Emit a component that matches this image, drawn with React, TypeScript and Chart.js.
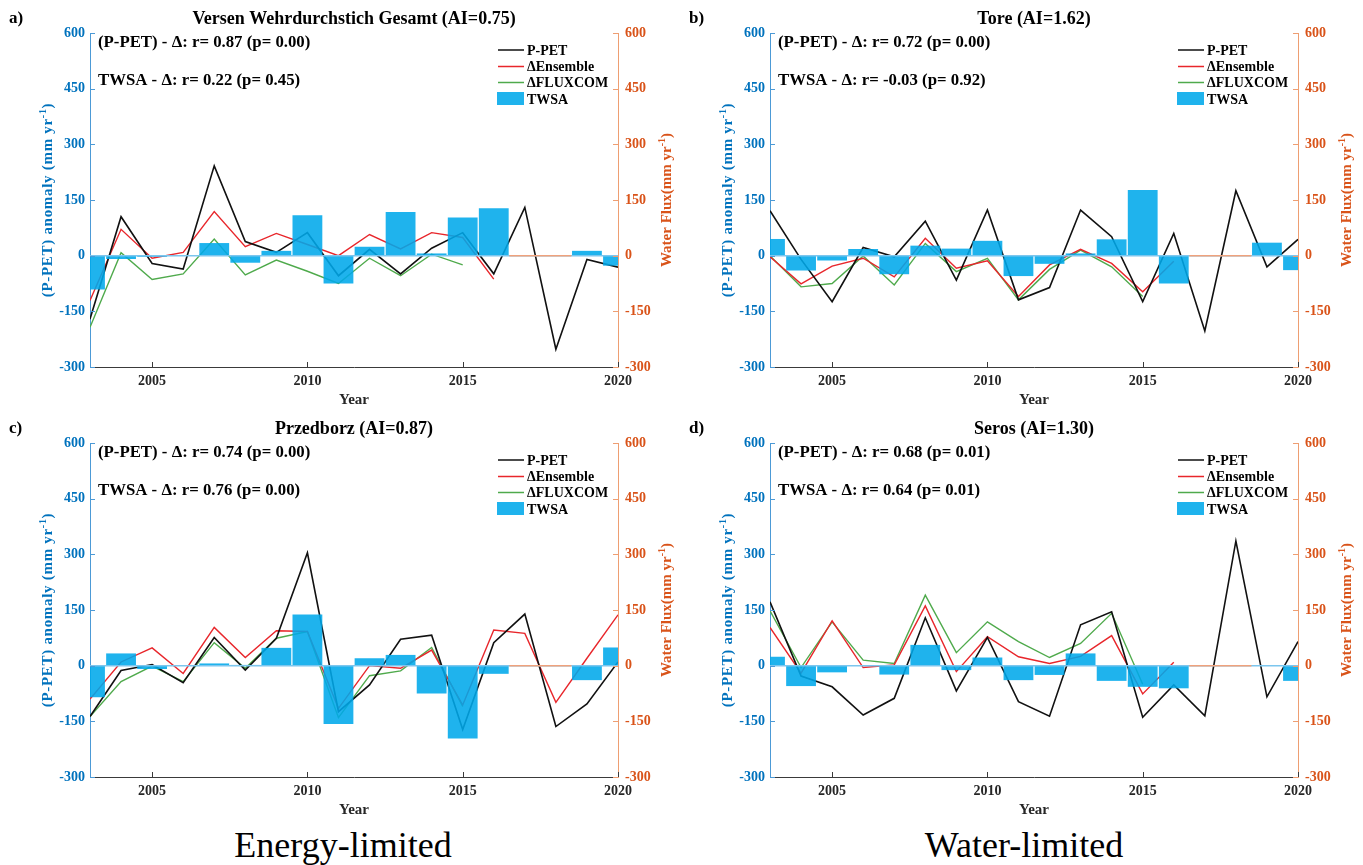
import React, { useEffect, useRef } from "react";
import { Chart, registerables } from "chart.js";

Chart.register(...registerables);

// ---------------- DATA ----------------
const years = [2003, 2004, 2005, 2006, 2007, 2008, 2009, 2010, 2011, 2012, 2013, 2014, 2015, 2016, 2017, 2018, 2019, 2020];
const xTickValues = [2005, 2010, 2015, 2020];
const yTickValues = [-300, -150, 0, 150, 300, 450, 600];
const legendLabels = ["P-PET", "\u0394Ensemble", "\u0394FLUXCOM", "TWSA"];

// a) Versen Wehrdurchstich Gesamt
const pPetA = [-171, 105, -21, -36, 242, 38, 9, 62, -54, 17, -49, 20, 62, -49, 130, -252, -10, -31];
const ensA = [-121, 71, -7, 9, 119, 24, 60, 30, 0, 57, 18, 62, 49, -63, null, null, null, null];
const fluxA = [-193, 8, -64, -49, 45, -52, -12, -42, -75, -7, -54, 4, -25, null, null, null, null, null];
const twsaA = [-91, -9, -3, 0, 34, -19, 13, 109, -75, 24, 118, 6, 103, 128, null, null, 13, -27];

// b) Tore
const pPetB = [121, -10, -124, 22, -3, 93, -66, 123, -119, -86, 123, 51, -124, 60, -203, 175, -30, 44];
const ensB = [-3, -76, -28, -7, -57, 47, -34, -14, -110, -25, 17, -21, -97, -15, null, null, null, null];
const fluxB = [0, -84, -75, -1, -79, 33, -43, -7, -119, -37, 15, -30, -110, null, null, null, null, null];
const twsaB = [45, -40, -13, 18, -50, 27, 19, 40, -55, -22, 6, 44, 177, -75, null, null, 35, -39];

// c) Przedborz
const pPetC = [-137, -13, 3, -46, 76, -12, 74, 304, -124, -52, 71, 82, -172, 62, 139, -164, -103, 10];
const ensC = [-90, 10, 48, -21, 103, 22, 94, 92, -115, 0, -7, 42, -106, 96, 87, -99, 20, 137];
const fluxC = [-137, -43, -1, -43, 62, -7, 74, 92, -140, -27, -14, 49, -110, null, null, null, null, null];
const twsaC = [-85, 33, -9, 0, 6, 2, 48, 138, -157, 20, 29, -75, -196, -22, null, null, -39, 49];

// d) Seros
const pPetD = [172, -28, -57, -133, -88, 129, -68, 76, -97, -136, 110, 145, -139, -52, -135, 336, -84, 65];
const ensD = [103, -20, 121, -5, 2, 161, -16, 78, 24, 6, 25, 81, -76, 9, null, null, null, null];
const fluxD = [148, -5, 118, 15, 6, 190, 35, 118, 65, 22, 60, 141, -50, null, null, null, null, null];
const twsaD = [24, -55, -18, 0, -24, 56, -12, 22, -39, -25, 33, -41, -57, -61, null, null, 0, -41];

const panels = [
  { letter: "a)", title: "Versen Wehrdurchstich Gesamt (AI=0.75)", stat1: "(P-PET) - \u0394: r= 0.87 (p= 0.00)", stat2: "TWSA - \u0394: r= 0.22 (p= 0.45)", pPet: pPetA, ens: ensA, flux: fluxA, twsa: twsaA },
  { letter: "b)", title: "Tore (AI=1.62)", stat1: "(P-PET) - \u0394: r= 0.72 (p= 0.00)", stat2: "TWSA - \u0394: r= -0.03 (p= 0.92)", pPet: pPetB, ens: ensB, flux: fluxB, twsa: twsaB },
  { letter: "c)", title: "Przedborz (AI=0.87)", stat1: "(P-PET) - \u0394: r= 0.74 (p= 0.00)", stat2: "TWSA - \u0394: r= 0.76 (p= 0.00)", pPet: pPetC, ens: ensC, flux: fluxC, twsa: twsaC },
  { letter: "d)", title: "Seros (AI=1.30)", stat1: "(P-PET) - \u0394: r= 0.68 (p= 0.01)", stat2: "TWSA - \u0394: r= 0.64 (p= 0.01)", pPet: pPetD, ens: ensD, flux: fluxD, twsa: twsaD },
];

// ---------------- STYLE / LAYOUT ----------------
const SERIF = '"Liberation Serif", "Times New Roman", serif';
const BLUE = "#0072BD";
const ORANGE = "#D95319";
const LEFT_AXIS = "#4C9AD6";
const RIGHT_AXIS = "#EE9E72";
const BAR = "rgba(0,168,234,0.88)";
const BASE_BLUE = "#7CC6EE";
const BASE_ORANGE = "#F0A27C";
const C_BLACK = "#111111";
const C_RED = "#E8262B";
const C_GREEN = "#4FAA4C";
const DARK = "#262626";

const boxes = [
  { left: 0, top: 0, width: 680 },
  { left: 680, top: 0, width: 683 },
  { left: 0, top: 410, width: 680 },
  { left: 680, top: 410, width: 683 },
];
const CANVAS_H = 410;
const AREA_RIGHT = 618;

function drawRotated(ctx: CanvasRenderingContext2D, cx: number, cy: number, parts: [string, boolean][], color: string, size: number, spacing: number) {
  ctx.save();
  ctx.translate(cx, cy);
  ctx.rotate(-Math.PI / 2);
  const mainFont = `bold ${size}px ${SERIF}`;
  const supFont = `bold ${Math.round(size * 0.68)}px ${SERIF}`;
  (ctx as any).letterSpacing = `${spacing}px`;
  let total = 0;
  for (const [t, sup] of parts) {
    ctx.font = sup ? supFont : mainFont;
    total += ctx.measureText(t).width;
  }
  let x = -total / 2;
  const base = size * 0.35;
  ctx.fillStyle = color;
  ctx.textBaseline = "alphabetic";
  ctx.textAlign = "left";
  for (const [t, sup] of parts) {
    ctx.font = sup ? supFont : mainFont;
    ctx.fillText(t, x, sup ? base - size * 0.42 : base);
    x += ctx.measureText(t).width;
  }
  ctx.restore();
}

function ChartPanel({ panel, box }: { panel: any; box: { left: number; top: number; width: number } }) {
  const ref = useRef<HTMLCanvasElement>(null);
  useEffect(() => {
    const canvas = ref.current;
    if (!canvas) return;
    const pts = (vals: (number | null)[]) => years.map((x, i) => ({ x, y: vals[i] }));
    const tickFont = { family: SERIF, size: 14, weight: "bold" as const };

    const decor = {
      id: "decor",
      afterDatasetsDraw(chart: any) {
        const { ctx, chartArea: a, scales } = chart;
        const y0 = scales.y.getPixelForValue(0);
        ctx.save();
        ctx.lineWidth = 1.5;
        ctx.strokeStyle = BASE_BLUE;
        ctx.beginPath();
        ctx.moveTo(a.left, y0);
        ctx.lineTo(a.right, y0);
        ctx.stroke();
        const gap = years.filter((_, i) => panel.twsa[i] === null);
        if (gap.length) {
          const x1 = scales.x.getPixelForValue(Math.min(...gap) - 0.5);
          const x2 = scales.x.getPixelForValue(Math.max(...gap) + 0.5);
          ctx.strokeStyle = BASE_ORANGE;
          ctx.beginPath();
          ctx.moveTo(x1, y0);
          ctx.lineTo(x2, y0);
          ctx.stroke();
        }
        ctx.restore();
      },
      afterDraw(chart: any) {
        const { ctx, chartArea: a, scales } = chart;
        ctx.save();
        // inward ticks
        ctx.lineWidth = 1;
        ctx.strokeStyle = "#3a3a3a";
        ctx.beginPath();
        for (const v of xTickValues) {
          const px = Math.round(scales.x.getPixelForValue(v)) + 0.5;
          ctx.moveTo(px, a.bottom);
          ctx.lineTo(px, a.bottom - 5);
        }
        ctx.stroke();
        ctx.strokeStyle = LEFT_AXIS;
        ctx.beginPath();
        for (const v of yTickValues) {
          const py = Math.round(scales.y.getPixelForValue(v)) + 0.5;
          ctx.moveTo(a.left, py);
          ctx.lineTo(a.left + 5, py);
        }
        ctx.stroke();
        ctx.strokeStyle = RIGHT_AXIS;
        ctx.beginPath();
        for (const v of yTickValues) {
          const py = Math.round(scales.y2.getPixelForValue(v)) + 0.5;
          ctx.moveTo(a.right, py);
          ctx.lineTo(a.right - 5, py);
        }
        ctx.stroke();

        // titles
        ctx.fillStyle = "#000";
        ctx.textBaseline = "middle";
        ctx.textAlign = "center";
        ctx.font = `bold 18px ${SERIF}`;
        ctx.fillText(panel.title, (a.left + a.right) / 2, 19);
        ctx.textAlign = "left";
        ctx.font = `bold 17px ${SERIF}`;
        ctx.fillText(panel.letter, 9, 19);

        // stats
        ctx.font = `bold 16.8px ${SERIF}`;
        ctx.fillText(panel.stat1, a.left + 8, a.top + 10);
        ctx.fillText(panel.stat2, a.left + 8, a.top + 48);

        // legend
        const lx0 = a.right - 120;
        const lx1 = a.right - 94;
        const tx = a.right - 91;
        const rows = [a.top + 17, a.top + 33.5, a.top + 49.5, a.top + 66];
        const cols = [C_BLACK, C_RED, C_GREEN];
        ctx.lineWidth = 1.5;
        for (let i = 0; i < 3; i++) {
          ctx.strokeStyle = cols[i];
          ctx.beginPath();
          ctx.moveTo(lx0, rows[i]);
          ctx.lineTo(lx1, rows[i]);
          ctx.stroke();
        }
        ctx.fillStyle = BAR;
        ctx.fillRect(lx0 - 1, rows[3] - 7, lx1 - lx0 + 1, 13);
        ctx.fillStyle = "#000";
        ctx.font = `bold 14px ${SERIF}`;
        for (let i = 0; i < 4; i++) ctx.fillText(legendLabels[i], tx, rows[i] + 1);

        // axis titles
        const cy = (a.top + a.bottom) / 2;
        drawRotated(ctx, 47, cy, [["(P-PET) anomaly (mm yr", false], ["-1", true], [")", false]], BLUE, 15, 0.7);
        drawRotated(ctx, a.right + 48, cy, [["Water Flux(mm yr", false], ["-1", true], [")", false]], ORANGE, 15, 0);
        ctx.restore();
      },
    };

    const chart = new Chart(canvas, {
      type: "bar",
      data: {
        datasets: [
          { type: "bar", label: legendLabels[3], data: pts(panel.twsa), backgroundColor: BAR, borderWidth: 0, barPercentage: 1, categoryPercentage: 0.96, clip: 0, order: 0, yAxisID: "y" } as any,
          { type: "line", label: legendLabels[0], data: pts(panel.pPet), borderColor: C_BLACK, borderWidth: 1.6, pointRadius: 0, tension: 0, order: 1, yAxisID: "y" } as any,
          { type: "line", label: legendLabels[1], data: pts(panel.ens), borderColor: C_RED, borderWidth: 1.4, pointRadius: 0, tension: 0, order: 2, yAxisID: "y" } as any,
          { type: "line", label: legendLabels[2], data: pts(panel.flux), borderColor: C_GREEN, borderWidth: 1.4, pointRadius: 0, tension: 0, order: 3, yAxisID: "y" } as any,
        ],
      },
      options: {
        animation: false,
        responsive: false,
        maintainAspectRatio: false,
        layout: { padding: { top: 33, left: 0, right: 0, bottom: 0 } },
        plugins: { legend: { display: false }, tooltip: { enabled: false }, title: { display: false } },
        scales: {
          x: {
            type: "linear",
            position: "bottom",
            min: 2003,
            max: 2020,
            offset: false,
            afterBuildTicks: (s: any) => { s.ticks = xTickValues.map((v) => ({ value: v })); },
            afterFit: (s: any) => { s.height = CANVAS_H - 367; },
            grid: { display: false, drawTicks: false },
            border: { display: true, color: "#3a3a3a", width: 1 },
            ticks: { color: DARK, font: tickFont, padding: 6, autoSkip: false, maxRotation: 0, callback: (v: any) => String(v) },
            title: { display: true, text: "Year", color: DARK, font: { family: SERIF, size: 15, weight: "bold" }, padding: { top: 0, bottom: 1 } },
          },
          y: {
            type: "linear",
            position: "left",
            min: -300,
            max: 600,
            afterBuildTicks: (s: any) => { s.ticks = yTickValues.map((v) => ({ value: v })); },
            afterFit: (s: any) => { s.width = 90; },
            grid: { display: false, drawTicks: false },
            border: { display: true, color: LEFT_AXIS, width: 1 },
            ticks: { color: BLUE, font: tickFont, padding: 5, callback: (v: any) => String(v) },
          },
          y2: {
            type: "linear",
            position: "right",
            min: -300,
            max: 600,
            afterBuildTicks: (s: any) => { s.ticks = yTickValues.map((v) => ({ value: v })); },
            afterFit: (s: any) => { s.width = box.width - AREA_RIGHT; },
            grid: { display: false, drawTicks: false },
            border: { display: true, color: RIGHT_AXIS, width: 1 },
            ticks: { color: ORANGE, font: tickFont, padding: 7, callback: (v: any) => String(v) },
          },
        },
      } as any,
      plugins: [decor],
    });
    return () => chart.destroy();
  }, [panel, box]);

  return (
    <canvas
      ref={ref}
      width={box.width}
      height={CANVAS_H}
      style={{ position: "absolute", left: box.left, top: box.top, width: box.width, height: CANVAS_H }}
    />
  );
}

export default function App() {
  const labelStyle = (cx: number): React.CSSProperties => ({
    position: "absolute",
    left: cx - 200,
    width: 400,
    top: 827,
    textAlign: "center",
    fontFamily: SERIF,
    fontSize: 36,
    lineHeight: "36px",
    color: "#000",
  });
  return (
    <div style={{ position: "absolute", left: 0, top: 0, width: 1363, height: 865, background: "#fff", overflow: "hidden" }}>
      {panels.map((p, i) => (
        <ChartPanel key={i} panel={p} box={boxes[i]} />
      ))}
      <div style={labelStyle(343)}>Energy-limited</div>
      <div style={labelStyle(1024)}>Water-limited</div>
    </div>
  );
}
